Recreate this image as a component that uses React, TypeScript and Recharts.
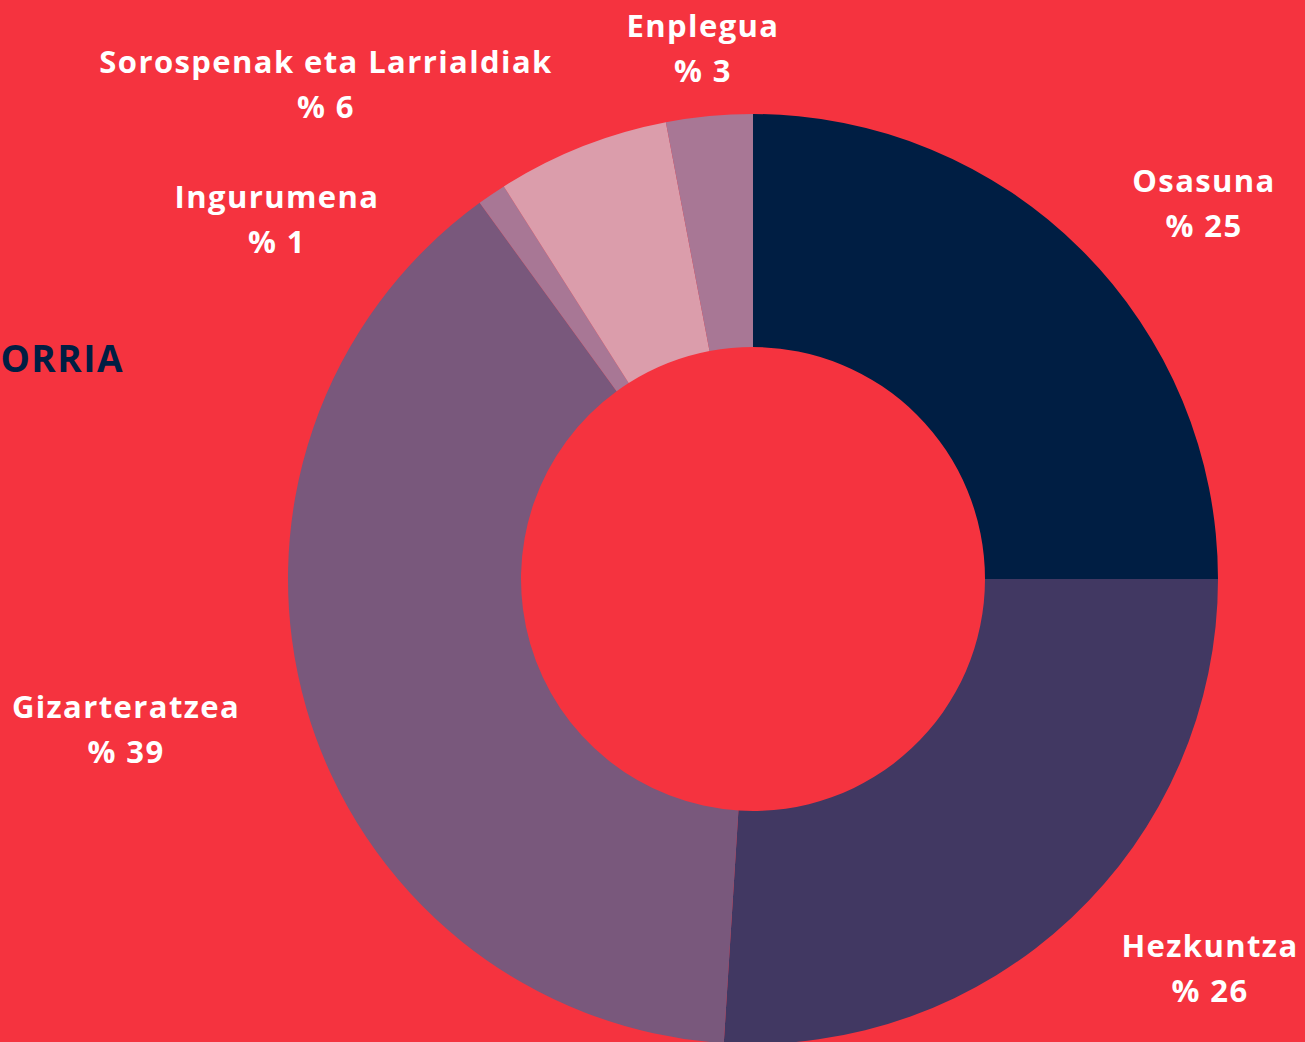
import { PieChart, Pie, Cell } from 'recharts'

const categories = ['Osasuna', 'Hezkuntza', 'Gizarteratzea', 'Ingurumena', 'Sorospenak eta Larrialdiak', 'Enplegua']
const shares = [25, 26, 39, 1, 6, 3]
const colors = ['#001e43', '#413862', '#79587c', '#a87795', '#db9dab', '#a87795']

// label anchors, offset from the pie centre (px)
const labelPos: Record<string, [number, number]> = {
  Osasuna: [451, -399],
  Hezkuntza: [457, 366],
  Gizarteratzea: [-627, 127],
  Ingurumena: [-476, -383],
  'Sorospenak eta Larrialdiak': [-427, -518],
  Enplegua: [-50, -554],
}

const data = categories.map((name, i) => ({ name, value: shares[i] }))

const font = '"Open Sans", "DejaVu Sans", sans-serif'

function renderLabel(props: any) {
  const { cx, cy, name, value } = props
  const [dx, dy] = labelPos[name] ?? [0, 0]
  const x = cx + dx
  const y = cy + dy
  const style = { fill: '#fff', fontSize: 31, fontWeight: 700, fontFamily: font, letterSpacing: 1.4 }
  return (
    <g>
      <text x={x} y={y} textAnchor="middle" dominantBaseline="central" style={style}>
        {name}
      </text>
      <text x={x} y={y + 45} textAnchor="middle" dominantBaseline="central" style={style}>
        {`% ${value}`}
      </text>
    </g>
  )
}

export default function App() {
  return (
    <div style={{ position: 'absolute', left: 0, top: 0, width: 1305, height: 1042, background: '#f5333f', overflow: 'hidden' }}>
      <svg style={{ position: 'absolute', left: 0, top: 0 }} width={1305} height={1042}>
        <text x={124} y={372} textAnchor="end" fill="#001e43" fontSize={37} fontWeight={700} letterSpacing={1.5} fontFamily={font}>
          ORRIA
        </text>
      </svg>
      <div style={{ position: 'absolute', left: 0, top: 0 }}>
        <PieChart width={1305} height={1042} margin={{ top: 0, right: 0, bottom: 0, left: 0 }}>
          <Pie
            data={data}
            dataKey="value"
            nameKey="name"
            cx={753}
            cy={579}
            innerRadius={232}
            outerRadius={465}
            startAngle={90}
            endAngle={-270}
            stroke="none"
            label={renderLabel}
            labelLine={false}
            isAnimationActive={false}
          >
            {data.map((d, i) => (
              <Cell key={d.name} fill={colors[i]} />
            ))}
          </Pie>
        </PieChart>
      </div>
    </div>
  )
}
